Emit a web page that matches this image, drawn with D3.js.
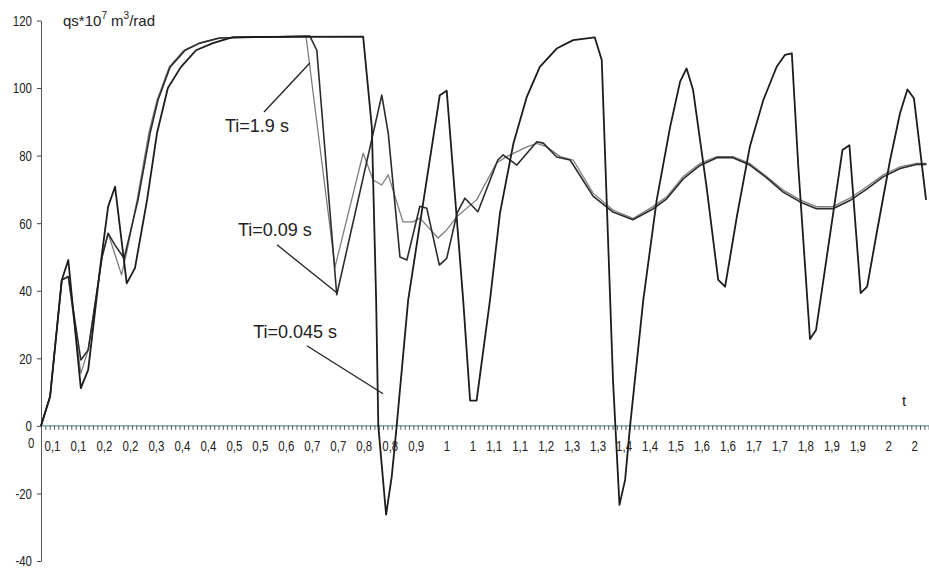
<!DOCTYPE html>
<html>
<head>
<meta charset="utf-8">
<script src="https://cdn.jsdelivr.net/npm/d3@7"></script>
<style>
  body { margin: 0; background: #fff; }
  text { font-family: "Liberation Sans", Arial, sans-serif; fill: #222; }
</style>
</head>
<body>
<script>
// DATA ======================================================================
// time (s) and qs values, one pair of arrays per curve

// Ti = 1.9 s (thin grey)
var tA = [0, 0.021, 0.048, 0.063, 0.092, 0.109, 0.141, 0.155, 0.186, 0.199, 0.222, 0.249, 0.268, 0.296,
  0.330, 0.365, 0.409, 0.612, 0.679, 0.744, 0.767, 0.787, 0.802, 0.836, 0.859, 0.875, 0.917, 0.937,
  0.960, 1.006, 1.052, 1.075, 1.122, 1.145, 1.168, 1.199, 1.229, 1.275, 1.321, 1.367, 1.413, 1.445,
  1.483, 1.522, 1.561, 1.598, 1.637, 1.676, 1.714, 1.753, 1.791, 1.829, 1.868, 1.907, 1.945, 1.984,
  2.022, 2.045];
var qA = [0, 8.7, 43.2, 44.2, 15.5, 22.5, 50, 57, 44.7, 52, 66.9, 86.7, 96.4, 106.2,
  111.2, 113.3, 114.8, 115.4, 47, 80.7, 72.8, 71.3, 74.3, 60.4, 60.4, 61.5, 55.6, 58,
  61.9, 66.9, 77.8, 79.7, 82.6, 83.6, 82.6, 79.7, 78.7, 68.9, 63.9, 61.4, 64.9, 67.8,
  73.8, 77.7, 79.7, 79.7, 77.7, 73.8, 69.8, 66.9, 64.9, 64.9, 67.4, 70.8, 74.3, 76.7,
  77.7, 77.7];

// Ti = 0.09 s
var tB = [0, 0.021, 0.048, 0.063, 0.092, 0.109, 0.141, 0.155, 0.171, 0.192, 0.224, 0.252, 0.270, 0.298,
  0.333, 0.367, 0.413, 0.621, 0.637, 0.683, 0.787, 0.802, 0.829, 0.845, 0.875, 0.891, 0.920, 0.937,
  0.961, 0.979, 1.009, 1.055, 1.067, 1.099, 1.145, 1.160, 1.191, 1.222, 1.275, 1.321, 1.367, 1.413,
  1.445, 1.483, 1.522, 1.561, 1.598, 1.637, 1.676, 1.714, 1.753, 1.791, 1.829, 1.868, 1.907, 1.945,
  1.984, 2.022, 2.045];
var qB = [0, 8.7, 43.2, 44.2, 19.5, 22.5, 50, 57, 53.5, 49.6, 66.9, 86.7, 96.4, 106.2,
  111.2, 113.3, 114.8, 115.4, 111.2, 38.8, 97.9, 86.6, 50, 49.1, 65, 64.4, 47.6, 49.6,
  63, 67.4, 63.4, 78.7, 80.2, 77.2, 84.1, 83.7, 79.6, 78.7, 68, 63.3, 61, 64.2,
  67.2, 73.1, 77.1, 79.4, 79.4, 77.2, 73.4, 69.2, 66.3, 64.3, 64.3, 66.7, 70.1, 73.7,
  76.2, 77.4, 77.4];

// Ti = 0.045 s
var tC = [0, 0.021, 0.048, 0.063, 0.092, 0.109, 0.136, 0.155, 0.171, 0.198, 0.217, 0.245, 0.268, 0.293,
  0.323, 0.358, 0.397, 0.443, 0.744, 0.764, 0.774, 0.779, 0.797, 0.810, 0.821, 0.848, 0.921, 0.937,
  0.975, 0.991, 1.006, 1.037, 1.060, 1.091, 1.122, 1.152, 1.191, 1.229, 1.279, 1.295, 1.321, 1.336,
  1.349, 1.360, 1.391, 1.422, 1.453, 1.476, 1.491, 1.506, 1.537, 1.564, 1.580, 1.607, 1.637, 1.668,
  1.699, 1.718, 1.734, 1.749, 1.776, 1.790, 1.851, 1.867, 1.893, 1.908, 1.930, 1.961, 1.984, 2.001,
  2.016, 2.044];
var qC = [0, 8.7, 43.2, 49.1, 11.2, 16.6, 46.2, 64.9, 70.8, 42.2, 46.7, 66.9, 86.7, 100,
  106.2, 111.2, 113.3, 115.1, 115.2, 88.5, 37.3, 0, -26.3, -15, -0.6, 37.3, 97.9, 99.2,
  37.3, 7.5, 7.5, 37.3, 63, 83.6, 97.4, 106.3, 111.7, 114.2, 115, 108.3, 13.6, -23.4,
  -16, -0.6, 37.3, 66.9, 88.5, 101.9, 105.8, 99.4, 70.8, 43.2, 41.2, 61.9, 82.6, 96.4,
  106.3, 109.8, 110.3, 76.7, 25.7, 28.4, 81.7, 83.1, 39.3, 41.2, 57.1, 78.7, 92.6, 99.6,
  97, 66.9];

var yTicks = [-40, -20, 0, 20, 40, 60, 80, 100, 120];
var yLabels = ["-40", "-20", "0", "20", "40", "60", "80", "100", "120"];

// category labels every 6 samples (0.06 s), as printed
var xLabels = ["0", "0,1", "0,1", "0,2", "0,2", "0,3", "0,4", "0,4", "0,5", "0,5", "0,6", "0,7",
  "0,7", "0,8", "0,8", "0,9", "1", "1", "1,1", "1,1", "1,2", "1,3", "1,3", "1,4", "1,4", "1,5",
  "1,6", "1,6", "1,7", "1,7", "1,8", "1,9", "1,9", "2", "2"];

// ==============================================================================

var width = 929, height = 573;

var x = d3.scaleLinear().domain([0, 2.05]).range([41, 928.65]);
var y = d3.scaleLinear().domain([-40, 120]).range([561, 20.5]);

var svg = d3.select("body").append("svg")
    .attr("width", width)
    .attr("height", height);

svg.append("rect").attr("width", width).attr("height", height).attr("fill", "#fff");

var squeeze = 0.82; // tick labels look narrow in the scan

// y axis
var yAxis = d3.axisLeft(y)
    .tickValues(yTicks)
    .tickSize(4)
    .tickSizeOuter(0)
    .tickFormat((d, i) => yLabels[i]);

var gy = svg.append("g")
    .attr("transform", "translate(41,0)")
    .call(yAxis);
gy.select(".domain").attr("stroke", "#555");
gy.selectAll(".tick line").attr("stroke", "#444");
gy.selectAll(".tick text")
    .attr("font-size", "14px")
    .attr("font-family", "Liberation Sans, Arial, sans-serif")
    .attr("fill", "#222")
    .attr("x", -9 / squeeze)
    .attr("dy", "0.35em")
    .attr("transform", `scale(${squeeze},1)`);

// x axis: minor ticks at every sample (0.01 s)
var xAxis = d3.axisBottom(x)
    .tickValues(d3.range(206).map(i => i / 100))
    .tickSize(4)
    .tickSizeOuter(0)
    .tickFormat("");

var gx = svg.append("g")
    .attr("transform", `translate(0,${y(0)})`)
    .call(xAxis);
gx.select(".domain").attr("stroke", "#3f7f84").attr("d", `M41,0H929`);
gx.selectAll(".tick line").attr("stroke", "#555");

// x labels
var xLabelAxis = d3.axisBottom(x)
    .tickValues(d3.range(xLabels.length).map(k => k * 6 / 100))
    .tickSize(0)
    .tickFormat((d, i) => xLabels[i]);

var gxl = svg.append("g")
    .attr("transform", `translate(0,${y(0)})`)
    .call(xLabelAxis);
gxl.select(".domain").remove();
gxl.selectAll(".tick text")
    .attr("font-size", "14px")
    .attr("font-family", "Liberation Sans, Arial, sans-serif")
    .attr("fill", "#222")
    .attr("text-anchor", "end")
    .attr("x", -7 / squeeze)
    .attr("dy", 0)
    .attr("y", (d, i) => i === 0 ? 22 : 25)
    .attr("transform", `scale(${squeeze},1)`);

// curves
var line = d3.line()
    .x(d => x(d[0]))
    .y(d => y(d[1]));

var curves = [
  { t: tA, q: qA, color: "#7d7d7d", w: 1.3 },
  { t: tB, q: qB, color: "#2b2b2b", w: 1.6 },
  { t: tC, q: qC, color: "#1c1c1c", w: 1.8 }
];

svg.selectAll("path.curve")
    .data(curves)
  .enter().append("path")
    .attr("class", "curve")
    .attr("fill", "none")
    .attr("stroke", d => d.color)
    .attr("stroke-width", d => d.w)
    .attr("stroke-linejoin", "round")
    .attr("d", d => line(d.t.map((tt, i) => [tt, d.q[i]])));

// annotations (in data units)
var notes = [
  { text: "Ti=1.9 s",   t: 0.425, q: 87,   t1: 0.515, q1: 92.9, t2: 0.621, q2: 107.4 },
  { text: "Ti=0.09 s",  t: 0.455, q: 56.2, t1: 0.545, q1: 53.6, t2: 0.684, q2: 39.3 },
  { text: "Ti=0.045 s", t: 0.490, q: 26,   t1: 0.614, q1: 23.7, t2: 0.790, q2: 9.5 }
];

svg.selectAll("line.lead")
    .data(notes)
  .enter().append("line")
    .attr("class", "lead")
    .attr("x1", d => x(d.t1)).attr("y1", d => y(d.q1))
    .attr("x2", d => x(d.t2)).attr("y2", d => y(d.q2))
    .attr("stroke", "#222")
    .attr("stroke-width", 1.3);

svg.selectAll("text.note")
    .data(notes)
  .enter().append("text")
    .attr("class", "note")
    .attr("x", d => x(d.t))
    .attr("y", d => y(d.q))
    .attr("font-size", "18px")
    .text(d => d.text);

// axis titles
var title = svg.append("text")
    .attr("x", 63)
    .attr("y", 26)
    .attr("font-size", "15px");
title.append("tspan").text("qs*10");
title.append("tspan").attr("font-size", "10px").attr("dy", -7).text("7");
title.append("tspan").attr("dy", 7).text(" m");
title.append("tspan").attr("font-size", "10px").attr("dy", -7).text("3");
title.append("tspan").attr("dy", 7).text("/rad");

svg.append("text")
    .attr("x", 902)
    .attr("y", 406)
    .attr("font-size", "15px")
    .text("t");
</script>
</body>
</html>
